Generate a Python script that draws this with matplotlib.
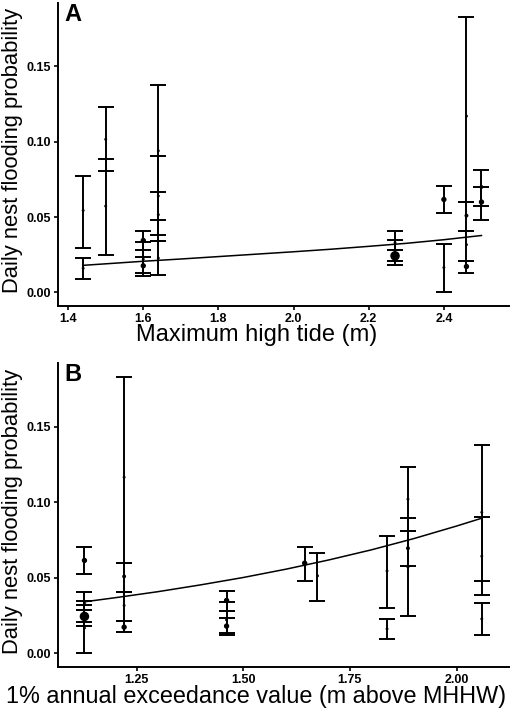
import matplotlib
matplotlib.use('Agg')
import matplotlib.pyplot as plt

plt.rcParams['font.family'] = ['Liberation Sans', 'DejaVu Sans']

# Panel A: maximum high tide
a_x = [1.44, 1.44, 1.50, 1.50, 1.60, 1.60, 1.60, 1.64, 1.64, 1.64, 1.64,
       2.27, 2.27, 2.27, 2.40, 2.40, 2.46, 2.46, 2.46, 2.46, 2.50, 2.50]
a_pt = [0.0544, 0.0160, 0.1016, 0.0573, 0.0345, 0.0177, 0.0220, 0.0940, 0.0640, 0.0516, 0.0228,
        0.0243, 0.0260, 0.0330, 0.0617, 0.0165, 0.1170, 0.0510, 0.0317, 0.0172, 0.0600, 0.0700]
a_lo = [0.0297, 0.0086, 0.0808, 0.0246, 0.0279, 0.0112, 0.0132, 0.0479, 0.0383, 0.0340, 0.0114,
        0.0208, 0.0179, 0.0280, 0.0528, 0.0000, 0.0600, 0.0410, 0.0210, 0.0132, 0.0484, 0.0577]
a_hi = [0.0775, 0.0228, 0.1230, 0.0887, 0.0410, 0.0232, 0.0334, 0.1380, 0.0905, 0.0666, 0.0340,
        0.0279, 0.0345, 0.0410, 0.0706, 0.0321, 0.1830, 0.0600, 0.0410, 0.0210, 0.0702, 0.0815]
a_n = [3, 3, 3, 3, 20, 20, 3, 3, 3, 3, 3,
       85, 3, 3, 20, 3, 3, 8, 3, 20, 20, 8]
a_fit_x = [1.44, 1.50, 1.60, 1.70, 1.80, 1.90, 2.00, 2.10, 2.20, 2.30, 2.40, 2.50]
a_fit_y = [0.0180, 0.0190, 0.0207, 0.0222, 0.0238, 0.0254, 0.0270, 0.0287, 0.0306, 0.0326, 0.0350, 0.0378]

# Panel B: 1% annual exceedance value
b_x = [1.128, 1.128, 1.128, 1.128, 1.128, 1.221, 1.221, 1.221, 1.221,
       1.461, 1.461, 1.461, 1.644, 1.674, 1.837, 1.837,
       1.886, 1.886, 1.886, 2.059, 2.059, 2.059]
b_pt = [0.0614, 0.0243, 0.0260, 0.0330, 0.0166, 0.1165, 0.0508, 0.0316, 0.0172,
        0.0349, 0.0179, 0.0220, 0.0596, 0.0512, 0.0545, 0.0161,
        0.1020, 0.0570, 0.0695, 0.0933, 0.0642, 0.0227]
b_lo = [0.0525, 0.0203, 0.0177, 0.0283, 0.0000, 0.0596, 0.0408, 0.0214, 0.0137,
        0.0276, 0.0117, 0.0135, 0.0479, 0.0346, 0.0302, 0.0093,
        0.0812, 0.0249, 0.0578, 0.0479, 0.0384, 0.0117]
b_hi = [0.0704, 0.0283, 0.0347, 0.0408, 0.0320, 0.1830, 0.0596, 0.0408, 0.0214,
        0.0413, 0.0230, 0.0338, 0.0704, 0.0662, 0.0779, 0.0227,
        0.1231, 0.0894, 0.0812, 0.1379, 0.0900, 0.0335]
b_n = [20, 85, 3, 3, 3, 3, 8, 3, 20,
       20, 20, 3, 20, 3, 3, 3,
       3, 3, 8, 3, 3, 3]
b_fit_x = [1.128, 1.20, 1.30, 1.40, 1.50, 1.60, 1.70, 1.80, 1.90, 2.00, 2.059]
b_fit_y = [0.0340, 0.0367, 0.0407, 0.0452, 0.0501, 0.0556, 0.0617, 0.0684, 0.0759, 0.0842, 0.0894]

fig = plt.figure(figsize=(5.13, 7.11), dpi=100)
ax_a = fig.add_axes([0.113, 0.5696, 0.879, 0.426])
ax_b = fig.add_axes([0.113, 0.0623, 0.879, 0.4267])


def draw_panel(ax, x, pt, lo, hi, n, fx, fy):
    yerr = [[p - l for p, l in zip(pt, lo)], [h - p for p, h in zip(pt, hi)]]
    ax.errorbar(x, pt, yerr=yerr, fmt='none', ecolor='black', elinewidth=1.4,
                capsize=5.5, capthick=1.4, zorder=2)
    ax.scatter(x, pt, s=[v * 0.4 for v in n], color='black', zorder=3)
    ax.plot(fx, fy, color='black', linewidth=1.1, zorder=4)
    for side in ['top', 'right']:
        ax.spines[side].set_visible(False)
    for side in ['left', 'bottom']:
        ax.spines[side].set_linewidth(1.4)
    ax.tick_params(direction='out', length=3, width=1.2, labelsize=9, pad=2)
    ax.set_ylabel('Daily nest flooding probability', fontsize=15.8)
    ax.yaxis.set_label_coords(-0.078, 0.513)
    ax.set_ylim(-0.009, 0.192)
    ax.set_yticks([0.00, 0.05, 0.10, 0.15])
    ax.set_yticklabels(['0.00', '0.05', '0.10', '0.15'], fontweight='bold')


draw_panel(ax_a, a_x, a_pt, a_lo, a_hi, a_n, a_fit_x, a_fit_y)
ax_a.set_xlim(1.373, 2.573)
ax_a.set_xticks([1.4, 1.6, 1.8, 2.0, 2.2, 2.4])
ax_a.set_xticklabels(['1.4', '1.6', '1.8', '2.0', '2.2', '2.4'], fontweight='bold')
ax_a.set_xlabel('Maximum high tide (m)', fontsize=17)
ax_a.xaxis.set_label_coords(0.44, -0.06)
ax_a.text(0.015, 1.0, 'A', transform=ax_a.transAxes, fontsize=17,
          fontweight='bold', va='top', ha='left')

draw_panel(ax_b, b_x, b_pt, b_lo, b_hi, b_n, b_fit_x, b_fit_y)
ax_b.set_xlim(1.066, 2.1225)
ax_b.set_xticks([1.25, 1.50, 1.75, 2.00])
ax_b.set_xticklabels(['1.25', '1.50', '1.75', '2.00'], fontweight='bold')
ax_b.set_xlabel('1% annual exceedance value (m above MHHW)', fontsize=16.8)
ax_b.xaxis.set_label_coords(0.44, -0.06)
ax_b.text(0.015, 1.0, 'B', transform=ax_b.transAxes, fontsize=17,
          fontweight='bold', va='top', ha='left')

fig.savefig('out.png', dpi=100)
